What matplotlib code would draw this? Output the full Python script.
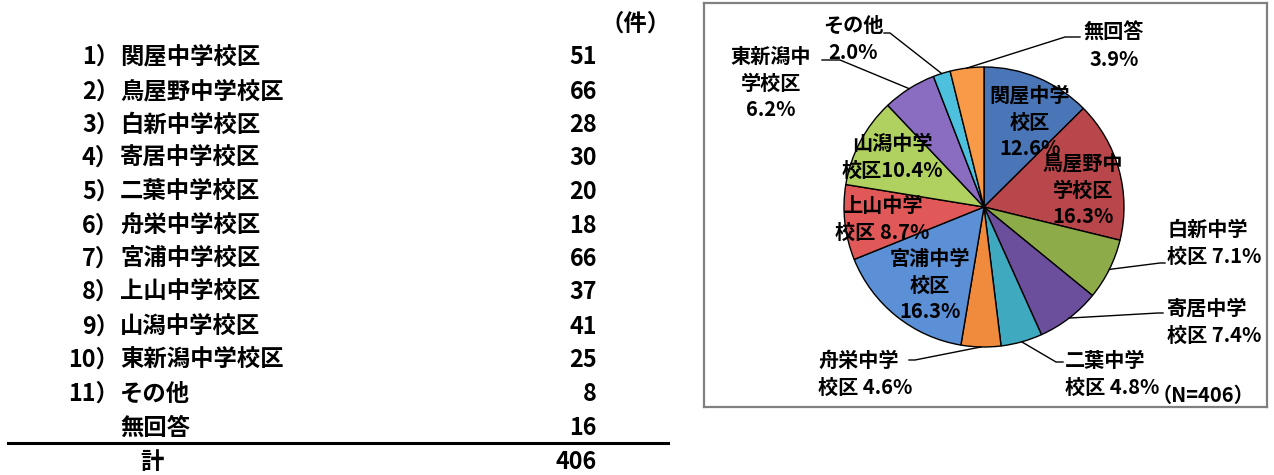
import matplotlib
matplotlib.use('Agg')
import matplotlib.pyplot as plt
import numpy as np

plt.rcParams['font.family'] = ['Noto Sans CJK JP', 'DejaVu Sans']

# table data
row_nums = ['1）', '2）', '3）', '4）', '5）', '6）', '7）', '8）', '9）', '10）', '11）', '']
row_names = ['関屋中学校区', '鳥屋野中学校区', '白新中学校区', '寄居中学校区', '二葉中学校区',
             '舟栄中学校区', '宮浦中学校区', '上山中学校区', '山潟中学校区', '東新潟中学校区',
             'その他', '無回答']
counts = [51, 66, 28, 30, 20, 18, 66, 37, 41, 25, 8, 16]
total = 406

# pie data (percentages as printed on the chart)
pie_labels = ['関屋中学\n校区\n', '鳥屋野中\n学校区\n', '白新中学\n校区 ', '寄居中学\n校区 ',
              '二葉中学\n校区 ', '舟栄中学\n校区 ', '宮浦中学\n校区\n', '上山中学\n校区 ',
              '山潟中学\n校区', '東新潟中\n学校区\n', 'その他\n', '無回答\n']
pie_pct = [12.6, 16.3, 7.1, 7.4, 4.8, 4.6, 16.3, 8.7, 10.4, 6.2, 2.0, 3.9]
colors = ['#4a76b8', '#b8464a', '#8eab4a', '#6c4f9c', '#3fa9c0', '#f08a3c',
          '#5b8fd6', '#e05858', '#b0d060', '#8a6cc0', '#4cc0dc', '#f89a48']

W, H = 1274, 475
fig = plt.figure(figsize=(W / 100, H / 100), dpi=100)

# ---- table (pixel coords) ----
ax0 = fig.add_axes([0, 0, 1, 1])
ax0.set_xlim(0, W)
ax0.set_ylim(H, 0)
ax0.axis('off')

fs = 16.8
row_y = [57, 92, 125, 158, 192, 226, 259, 292, 327, 360, 394, 428]
for y, n, name, c in zip(row_y, row_nums, row_names, counts):
    ax0.text(119, y, n, ha='right', va='center', fontsize=fs, fontweight='bold')
    ax0.text(120, y, name, ha='left', va='center', fontsize=fs, fontweight='bold')
    ax0.text(597, y, str(c), ha='right', va='center', fontsize=fs, fontweight='bold')
ax0.text(636, 24, '（件）', ha='center', va='center', fontsize=fs, fontweight='bold')
ax0.plot([8, 668], [443, 443], color='black', lw=2.2)
ax0.text(152, 462, '計', ha='center', va='center', fontsize=fs, fontweight='bold')
ax0.text(597, 462, str(total), ha='right', va='center', fontsize=fs, fontweight='bold')

# ---- pie (pixel coords, y up) ----
bx0, by0, bx1, by1 = 704, 3, 1267, 407
ax = fig.add_axes([bx0 / W, 1 - by1 / H, (bx1 - bx0) / W, (by1 - by0) / H])
cx, cy, r = 984, H - 207, 140
wedges, _ = ax.pie(pie_pct, colors=colors, startangle=90, counterclock=False,
                   center=(cx, cy), radius=r, frame=True,
                   wedgeprops=dict(edgecolor='black', linewidth=1))
ax.set_aspect('auto')
ax.set_xlim(bx0, bx1)
ax.set_ylim(H - by1, H - by0)
ax.set_xticks([])
ax.set_yticks([])
for s in ax.spines.values():
    s.set_color('#808080')
    s.set_linewidth(1.6)

def Y(y):
    return H - y

pfs = 14.5
labels = [lab + f'{p:.1f}%' for lab, p in zip(pie_labels, pie_pct)]
# label position (pixel), horizontal alignment
lab_pos = [(1030, 122, 'center'), (1083, 190, 'center'), (1167, 243, 'left'),
           (1167, 322, 'left'), (1065, 374, 'left'), (818, 374, 'left'),
           (930, 285, 'center'), (882, 219, 'center'), (892, 157, 'center'),
           (771, 83, 'center'), (853, 39, 'center'), (1114, 46, 'center')]
for lab, (x, y, ha) in zip(labels, lab_pos):
    ax.text(x, Y(y), lab, ha=ha, va='center', fontsize=pfs, fontweight='bold',
            multialignment=ha, linespacing=1.35)

# leader lines: index -> (elbow, end)
leaders = {2: ((1160, 263), (1165, 263)), 3: ((1158, 313), (1163, 313)),
           4: ((1056, 362), (1063, 362)), 5: ((915, 360), (909, 360)),
           9: ((840, 60), (822, 60)), 10: ((890, 33), (884, 33)),
           11: ((1065, 37), (1080, 37))}
for i, (e1, e2) in leaders.items():
    w = wedges[i]
    ang = np.deg2rad((w.theta1 + w.theta2) / 2)
    sx, sy = cx + r * np.cos(ang), cy + r * np.sin(ang)
    ax.plot([sx, e1[0], e2[0]], [sy, Y(e1[1]), Y(e2[1])], color='black', lw=1)

ax.text(1203, Y(395), '（N=406）', ha='center', va='center', fontsize=pfs, fontweight='bold')

fig.savefig('out.png', dpi=100)
